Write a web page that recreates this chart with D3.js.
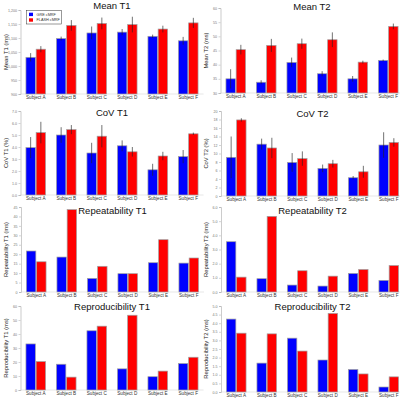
<!DOCTYPE html>
<html>
<head>
<meta charset="utf-8">
<script src="https://cdn.jsdelivr.net/npm/d3@7"></script>
<style>
  body { margin: 0; background: #fff; }
  svg { display: block; font-family: "Liberation Sans", Arial, sans-serif; }
</style>
</head>
<body>
<script>
var subjects = ['Subject A', 'Subject B', 'Subject C', 'Subject D', 'Subject E', 'Subject F'];
var seriesNames = ['GRE cMRF', 'FLASH cMRF'];

// mean T1 (ms)
var meanT1Gre = [1031, 1098, 1118, 1121, 1106, 1090];
var meanT1GreErr = [15, 7, 23, 11, 6, 14];
var meanT1Flash = [1060, 1145, 1152, 1148, 1132, 1154];
var meanT1FlashErr = [11, 19, 21, 28, 12, 18];
var meanT1Ticks = [900, 950, 1000, 1050, 1100, 1150, 1200];

// mean T2 (ms)
var meanT2Gre = [35.0, 33.8, 40.8, 36.8, 35.0, 41.5];
var meanT2GreErr = [3.4, 0.7, 1.7, 0.9, 1.0, 0.3];
var meanT2Flash = [45.3, 46.8, 47.4, 48.8, 40.9, 53.5];
var meanT2FlashErr = [1.7, 2.3, 1.8, 2.6, 0.5, 1.0];
var meanT2Ticks = [30, 35, 40, 45, 50, 55, 60];

// CoV T1 (%)
var covT1Gre = [3.95, 5.0, 3.5, 4.1, 2.1, 3.2];
var covT1GreErr = [0.88, 0.65, 0.85, 0.45, 0.5, 0.55];
var covT1Flash = [5.2, 5.45, 4.9, 3.6, 3.25, 5.1];
var covT1FlashErr = [0.9, 0.38, 0.93, 0.4, 0.35, 0.1];
var covT1Ticks = [0, 1, 2, 3, 4, 5, 6, 7];

// CoV T2 (%)
var covT2Gre = [9.1, 12.2, 7.9, 6.5, 4.3, 12.0];
var covT2GreErr = [4.9, 1.3, 2.2, 0.9, 0.4, 3.0];
var covT2Flash = [17.9, 11.3, 8.8, 7.6, 5.7, 12.6];
var covT2FlashErr = [0.4, 2.4, 1.7, 0.9, 1.4, 1.0];
var covT2Ticks = [0, 2, 4, 6, 8, 10, 12, 14, 16, 18, 20];

// repeatability (ms)
var repT1Gre = [21.7, 18.5, 7.2, 9.7, 15.5, 15.3];
var repT1Flash = [16.0, 43.6, 13.6, 9.7, 27.7, 18.0];
var repT1Ticks = [0, 5, 10, 15, 20, 25, 30, 35, 40, 45];
var repT2Gre = [3.55, 0.94, 0.49, 0.42, 1.31, 0.82];
var repT2Flash = [1.05, 5.34, 1.5, 1.12, 1.59, 1.87];
var repT2Ticks = [0, 1, 2, 3, 4, 5, 6];

// reproducibility (ms)
var reproT1Gre = [32.9, 18.4, 42.3, 15.1, 9.5, 18.9];
var reproT1Flash = [20.3, 9.2, 45.6, 53.4, 13.5, 23.4];
var reproT1Ticks = [0, 10, 20, 30, 40, 50, 60];
var reproT2Gre = [4.24, 1.68, 3.13, 1.86, 1.31, 0.29];
var reproT2Flash = [3.42, 3.38, 2.38, 4.57, 1.05, 0.88];
var reproT2Ticks = [0, 0.5, 1, 1.5, 2, 2.5, 3, 3.5, 4, 4.5, 5];

var colors = ['#0000ff', '#ff0000'];

var w = 400;
var h = 399;

var svg = d3.select('body')
            .append('svg')
            .attr('width', w)
            .attr('height', h);

// panel layout: x0 = y axis, top/bottom of plot area
var panels = [
  {title: 'Mean T1', ylab: 'Mean T1 (ms)', a: meanT1Gre, b: meanT1Flash, ae: meanT1GreErr, be: meanT1FlashErr, ticks: meanT1Ticks, x0: 20.5, top: 10, bottom: 94, ty: 9, legend: true},
  {title: 'Mean T2', ylab: 'Mean T2 (ms)', a: meanT2Gre, b: meanT2Flash, ae: meanT2GreErr, be: meanT2FlashErr, ticks: meanT2Ticks, x0: 220.5, top: 8, bottom: 93, ty: 10},
  {title: 'CoV T1', ylab: 'CoV T1 (%)', a: covT1Gre, b: covT1Flash, ae: covT1GreErr, be: covT1FlashErr, ticks: covT1Ticks, x0: 20.5, top: 111, bottom: 195, ty: 116},
  {title: 'CoV T2', ylab: 'CoV T2 (%)', a: covT2Gre, b: covT2Flash, ae: covT2GreErr, be: covT2FlashErr, ticks: covT2Ticks, x0: 221, top: 111, bottom: 196, ty: 117},
  {title: 'Repeatability T1', ylab: 'Repeatability T1 (ms)', a: repT1Gre, b: repT1Flash, ticks: repT1Ticks, x0: 21, top: 207, bottom: 292, ty: 214},
  {title: 'Repeatability T2', ylab: 'Repeatability T2 (ms)', a: repT2Gre, b: repT2Flash, ticks: repT2Ticks, x0: 221, top: 207, bottom: 292, ty: 214},
  {title: 'Reproducibility T1', ylab: 'Reproducibility T1 (ms)', a: reproT1Gre, b: reproT1Flash, ticks: reproT1Ticks, x0: 20.5, top: 306, bottom: 390, ty: 310},
  {title: 'Reproducibility T2', ylab: 'Reproducibility T2 (ms)', a: reproT2Gre, b: reproT2Flash, ticks: reproT2Ticks, x0: 221, top: 306, bottom: 392, ty: 310}
];

panels.forEach(function(p){
    var g = svg.append('g');

    var x = d3.scaleBand()
              .domain(subjects)
              .range([p.x0, p.x0 + 183]);
    var xs = d3.scaleBand()
               .domain([0, 1])
               .range([-9.8, 9.8])
               .paddingInner(0.08);
    var y = d3.scaleLinear()
              .domain([p.ticks[0], p.ticks[p.ticks.length - 1]])
              .range([p.bottom, p.top]);

    // y axis
    var ax = g.append('g')
              .attr('transform', 'translate(' + p.x0 + ',0)')
              .call(d3.axisLeft(y).tickValues(p.ticks).tickSize(2).tickPadding(1.5));
    ax.select('.domain').attr('stroke', '#aaa').attr('stroke-width', 0.6);
    ax.selectAll('.tick line').attr('stroke', '#aaa').attr('stroke-width', 0.5);
    ax.selectAll('.tick text').attr('fill', '#777').style('font-size', '3.6px');

    // baseline
    g.append('line')
     .attr('x1', p.x0).attr('x2', p.x0 + 183)
     .attr('y1', p.bottom).attr('y2', p.bottom)
     .attr('stroke', '#ccc').attr('stroke-width', 0.5);

    var rows = subjects.map(function(s, i){
        return [
            {s: s, k: 0, v: p.a[i], e: p.ae ? p.ae[i] : null},
            {s: s, k: 1, v: p.b[i], e: p.be ? p.be[i] : null}
        ];
    });
    var flat = [].concat.apply([], rows);

    g.selectAll('rect.bar')
     .data(flat)
     .enter()
     .append('rect')
     .attr('class', 'bar')
     .attr('x', function(d){ return x(d.s) + x.bandwidth() / 2 + xs(d.k); })
     .attr('width', xs.bandwidth())
     .attr('y', function(d){ return y(d.v); })
     .attr('height', function(d){ return p.bottom - y(d.v); })
     .attr('fill', function(d){ return colors[d.k]; })
     .attr('stroke', '#a0a0a0')
     .attr('stroke-width', 0.7);

    if (p.ae) {
        g.selectAll('line.err')
         .data(flat)
         .enter()
         .append('line')
         .attr('class', 'err')
         .attr('x1', function(d){ return x(d.s) + x.bandwidth() / 2 + xs(d.k) + xs.bandwidth() / 2; })
         .attr('x2', function(d){ return x(d.s) + x.bandwidth() / 2 + xs(d.k) + xs.bandwidth() / 2; })
         .attr('y1', function(d){ return y(d.v - d.e); })
         .attr('y2', function(d){ return y(d.v + d.e); })
         .attr('stroke', '#222')
         .attr('stroke-opacity', 0.8)
         .attr('stroke-width', 0.8);
    }

    // subject labels
    g.selectAll('text.sub')
     .data(subjects)
     .enter()
     .append('text')
     .attr('class', 'sub')
     .attr('x', function(d){ return x(d) + x.bandwidth() / 2; })
     .attr('y', p.bottom + 4.8)
     .attr('text-anchor', 'middle')
     .style('font-size', '4.6px')
     .attr('fill', '#333')
     .text(function(d){ return d; });

    // title
    g.append('text')
     .attr('x', p.x0 + 91.5)
     .attr('y', p.ty)
     .attr('text-anchor', 'middle')
     .style('font-size', '9.5px')
     .attr('fill', '#111')
     .text(p.title);

    // y label
    g.append('text')
     .attr('transform', 'translate(' + (p.x0 - 13) + ',' + ((p.top + p.bottom) / 2) + ') rotate(-90)')
     .attr('text-anchor', 'middle')
     .style('font-size', '5.8px')
     .attr('fill', '#222')
     .text(p.ylab);

    if (p.legend) {
        var lg = g.append('g').attr('transform', 'translate(' + (p.x0 + 6) + ',' + (p.top + 0.5) + ')');
        lg.append('rect')
          .attr('width', 35).attr('height', 13.5)
          .attr('fill', '#fff')
          .attr('stroke', '#333').attr('stroke-width', 0.5);
        seriesNames.forEach(function(n, i){
            lg.append('rect')
              .attr('x', 2.5).attr('y', 2.2 + i * 5.6)
              .attr('width', 4).attr('height', 3.4)
              .attr('fill', colors[i]);
            lg.append('text')
              .attr('x', 10).attr('y', 5.2 + i * 5.6)
              .style('font-size', '3.8px')
              .attr('fill', '#333')
              .text(n);
        });
    }
});
</script>
</body>
</html>
